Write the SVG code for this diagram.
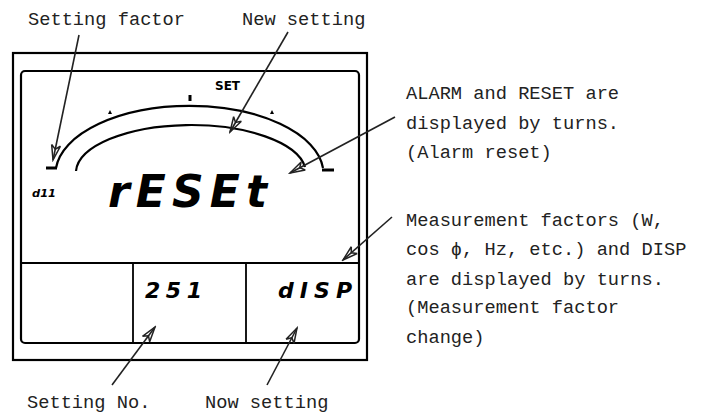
<svg xmlns="http://www.w3.org/2000/svg" width="706" height="417" viewBox="0 0 706 417">
<defs>
<style>
.lbl{font-family:"Liberation Mono","DejaVu Sans Mono",monospace;font-size:18.7px;fill:#222}
.lcd{font-family:"DejaVu Sans",sans-serif;font-weight:bold;font-style:oblique;fill:#000}
.set{font-family:"DejaVu Sans Condensed","DejaVu Sans",sans-serif;font-weight:bold;font-style:normal;fill:#000}
.ln{stroke:#000;fill:none}
.arr{stroke:#222;stroke-width:1.6;fill:none;marker-end:url(#ah)}
</style>
<marker id="ah" markerUnits="userSpaceOnUse" viewBox="-16 -6 18 12" refX="0" refY="0" markerWidth="18" markerHeight="12" orient="auto">
<path d="M-15,-4.5 L0,0 L-15,4.5 M-15,-4.5 L-11,0 L-15,4.5" fill="none" stroke="#222" stroke-width="1.5"/>
</marker>
</defs>
<rect width="706" height="417" fill="#fff"/>
<g id="panel">
<rect class="ln" x="13" y="53" width="354" height="307" stroke-width="2.2"/>
<rect class="ln" x="21" y="71" width="338" height="272" rx="4" stroke-width="2.2"/>
<line class="ln" x1="21" y1="263" x2="359" y2="263" stroke-width="2.2"/>
<line class="ln" x1="133" y1="263" x2="133" y2="343" stroke-width="1.8"/>
<line class="ln" x1="246" y1="263" x2="246" y2="343" stroke-width="1.8"/>
</g>
<g id="bargraph">
<path class="ln" d="M56,168 A134,68 0 0 1 323,168" stroke-width="2.2"/>
<path class="ln" d="M76,171 A115,48 0 0 1 305,167" stroke-width="2.2"/>
<line class="ln" x1="46" y1="168" x2="57" y2="168" stroke-width="3"/>
<line class="ln" x1="322" y1="170" x2="334" y2="170" stroke-width="3"/>
<rect x="188.5" y="95" width="3" height="6" fill="#000"/>
<path d="M108,114 L110,110 L112,114 Z" fill="#000"/>
<path d="M270,114 L272,110 L274,114 Z" fill="#000"/>
<text class="set" x="215" y="90" font-size="12" textLength="25" lengthAdjust="spacingAndGlyphs">SET</text>
</g>
<g id="main-display">
<text class="lcd" x="32" y="197" font-size="10" textLength="24" lengthAdjust="spacingAndGlyphs">d11</text>
<text class="lcd" x="108" y="207" font-size="44" textLength="159" lengthAdjust="spacing">rESEt</text>
</g>
<g id="setting-no-box">
<text class="lcd" x="145" y="298" font-size="22" textLength="57" lengthAdjust="spacing">251</text>
</g>
<g id="now-setting-box">
<text class="lcd" x="278" y="298" font-size="22" textLength="74" lengthAdjust="spacing">dISP</text>
</g>
<g id="labels">
<text class="lbl" x="28" y="25">Setting factor</text>
<text class="lbl" x="242" y="25">New setting</text>
<text class="lbl" x="406" y="99">ALARM and RESET are</text>
<text class="lbl" x="406" y="129">displayed by turns.</text>
<text class="lbl" x="406" y="158">(Alarm reset)</text>
<text class="lbl" x="406" y="226">Measurement factors (W,</text>
<text class="lbl" x="406" y="255">cos ϕ, Hz, etc.) and DISP</text>
<text class="lbl" x="406" y="285">are displayed by turns.</text>
<text class="lbl" x="406" y="313">(Measurement factor</text>
<text class="lbl" x="406" y="343">change)</text>
<text class="lbl" x="27" y="408">Setting No.</text>
<text class="lbl" x="205" y="408">Now setting</text>
</g>
<g id="connectors">
<line class="arr" x1="79" y1="35" x2="53" y2="160"/>
<line class="arr" x1="288" y1="32" x2="230" y2="132"/>
<line class="arr" x1="395" y1="117" x2="290" y2="173"/>
<line class="arr" x1="392" y1="217" x2="343" y2="260"/>
<line class="arr" x1="112" y1="385" x2="155" y2="327"/>
<line class="arr" x1="267" y1="385" x2="297" y2="328"/>
</g>
</svg>
